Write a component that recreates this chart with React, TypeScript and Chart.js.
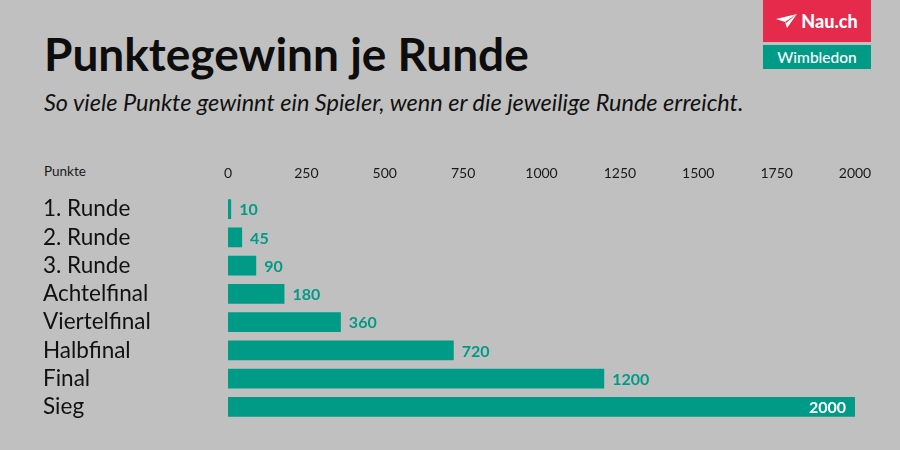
import React, { useEffect, useRef } from "react";
import { Chart, registerables } from "chart.js";

Chart.register(...registerables);

const categories = ["1. Runde", "2. Runde", "3. Runde", "Achtelfinal", "Viertelfinal", "Halbfinal", "Final", "Sieg"];
const points = [10, 45, 90, 180, 360, 720, 1200, 2000];
const tickValues = [0, 250, 500, 750, 1000, 1250, 1500, 1750, 2000];

const TEAL = "#009b86";
const BG = "#c0c0c0";
const RED = "#e62a4b";
const FONT = "Lato, 'Noto Sans', sans-serif";

const valueLabels = {
  id: "valueLabels",
  afterDatasetsDraw(chart: any) {
    const ctx = chart.ctx;
    const meta = chart.getDatasetMeta(0);
    const data = chart.data.datasets[0].data as number[];
    ctx.save();
    ctx.font = `bold 16px ${FONT}`;
    ctx.textBaseline = "middle";
    meta.data.forEach((bar: any, i: number) => {
      const v = data[i];
      if (i === data.length - 1) {
        ctx.fillStyle = "#ffffff";
        ctx.textAlign = "right";
        ctx.fillText(String(v), bar.x - 9, bar.y + 1);
      } else {
        ctx.fillStyle = TEAL;
        ctx.textAlign = "left";
        ctx.fillText(String(v), bar.x + 8, bar.y + 1);
      }
    });
    ctx.restore();
  },
};

function BarChart() {
  const ref = useRef<HTMLCanvasElement | null>(null);
  useEffect(() => {
    if (!ref.current) return;
    const chart = new Chart(ref.current, {
      type: "bar",
      data: {
        labels: categories,
        datasets: [
          {
            data: points,
            backgroundColor: TEAL,
            borderWidth: 0,
            categoryPercentage: 0.7,
            barPercentage: 1,
          },
        ],
      },
      options: {
        indexAxis: "y",
        animation: false,
        responsive: false,
        maintainAspectRatio: false,
        layout: { padding: { left: 43, right: 45, top: 0, bottom: 19 } },
        plugins: { legend: { display: false }, tooltip: { enabled: false }, title: { display: false } },
        scales: {
          x: {
            type: "linear",
            position: "top",
            min: 0,
            max: 2000,
            afterBuildTicks: (scale: any) => {
              scale.ticks = tickValues.map((v) => ({ value: v }));
            },
            afterFit: (scale: any) => {
              scale.height = 55;
            },
            grid: { display: false, drawTicks: false },
            border: { display: false },
            ticks: {
              padding: 13,
              color: "#1a1a1a",
              font: { family: FONT, size: 14 },
              maxRotation: 0,
              autoSkip: false,
              callback: (value: any) => String(value),
            },
          },
          y: {
            type: "category",
            afterFit: (scale: any) => {
              scale.width = 185;
            },
            grid: { display: false, drawTicks: false },
            border: { display: false },
            ticks: {
              crossAlign: "far",
              padding: 0,
              color: "#111111",
              font: { family: FONT, size: 22.5 },
              autoSkip: false,
            },
          },
        },
      },
      plugins: [valueLabels],
    });
    return () => chart.destroy();
  }, []);
  return (
    <canvas
      ref={ref}
      width={900}
      height={300}
      style={{ position: "absolute", left: 0, top: 140, width: 900, height: 300 }}
    />
  );
}

export default function App() {
  return (
    <div
      style={{
        position: "fixed",
        left: 0,
        top: 0,
        width: 900,
        height: 450,
        background: BG,
        fontFamily: FONT,
        overflow: "hidden",
      }}
    >
      <div
        style={{
          position: "absolute",
          left: 44,
          top: 31,
          fontSize: 46,
          lineHeight: "46px",
          fontWeight: 700,
          color: "#0d0d0d",
          whiteSpace: "nowrap",
        }}
      >
        Punktegewinn je Runde
      </div>
      <div
        style={{
          position: "absolute",
          left: 44,
          top: 91,
          fontSize: 23.5,
          lineHeight: "23.5px",
          fontStyle: "italic",
          color: "#111111",
          whiteSpace: "nowrap",
        }}
      >
        So viele Punkte gewinnt ein Spieler, wenn er die jeweilige Runde erreicht.
      </div>
      <div
        style={{
          position: "absolute",
          left: 44,
          top: 165,
          fontSize: 13.5,
          lineHeight: "13.5px",
          color: "#1a1a1a",
        }}
      >
        Punkte
      </div>
      <div
        style={{
          position: "absolute",
          left: 763,
          top: 0,
          width: 108,
          height: 42,
          background: RED,
          display: "flex",
          alignItems: "center",
          justifyContent: "center",
          gap: 4,
          color: "#ffffff",
          fontWeight: 900,
          fontSize: 18,
        }}
      >
        <svg width="21" height="14" viewBox="0 0 21 14">
          <polygon points="0,5 21,0 11,14 9,8" fill="#ffffff" />
          <polygon points="9,8 21,0 10,9" fill={RED} />
        </svg>
        <span>Nau.ch</span>
      </div>
      <div
        style={{
          position: "absolute",
          left: 763,
          top: 45,
          width: 108,
          height: 24,
          background: TEAL,
          display: "flex",
          alignItems: "center",
          justifyContent: "center",
          color: "#ffffff",
          fontSize: 15.5,
          fontWeight: 500,
        }}
      >
        Wimbledon
      </div>
      <BarChart />
    </div>
  );
}
